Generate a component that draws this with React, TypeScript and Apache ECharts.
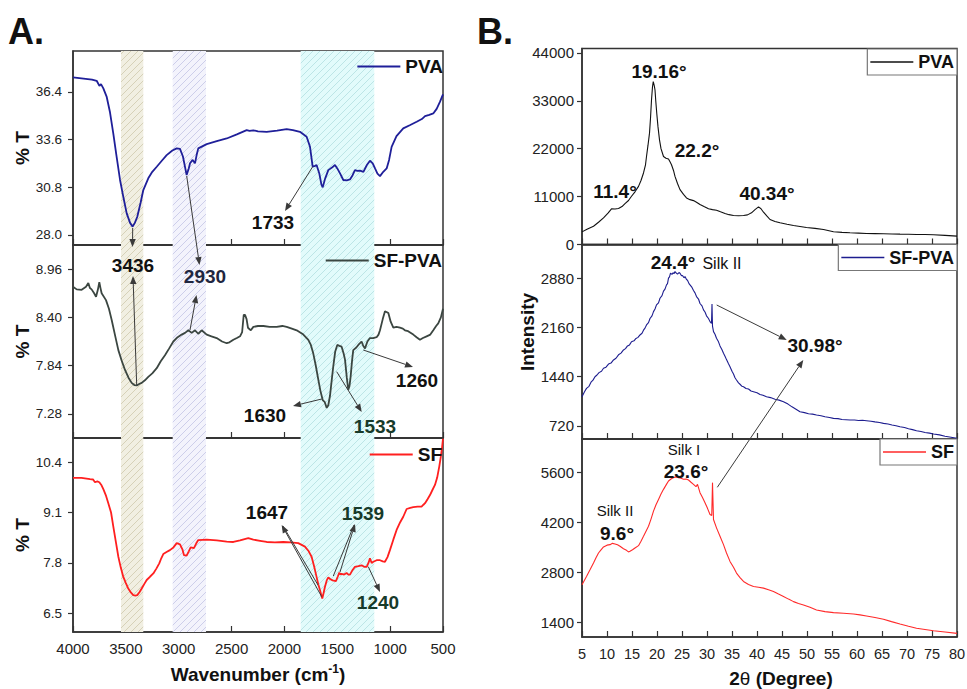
import React, { useEffect, useRef } from "react";
import * as echarts from "echarts";

const FONT = "'Liberation Sans', Arial, Helvetica, sans-serif";

// ---------- Panel A: FTIR (wavenumber cm-1, %T) ----------
const ftirPVA: [number, number][] = [
  [4000, 37.25], [3900, 37.18], [3820, 37.12], [3776, 37.05], [3750, 36.75], [3735, 36.85], [3713, 36.6],
  [3681, 36.1], [3650, 35.2], [3619, 33.96], [3590, 32.7], [3555, 31.22], [3520, 30.1], [3492, 29.26],
  [3460, 28.7], [3436, 28.48], [3415, 28.7], [3392, 29.06], [3360, 29.9], [3335, 30.63], [3288, 31.32],
  [3250, 31.7], [3208, 32.0], [3160, 32.35], [3114, 32.68], [3060, 32.95], [3019, 33.08], [2988, 33.05],
  [2960, 32.6], [2925, 31.51], [2905, 31.9], [2893, 32.2], [2868, 32.4], [2846, 32.2], [2830, 32.7],
  [2815, 33.08], [2735, 33.33], [2640, 33.5], [2546, 33.66], [2450, 33.9], [2357, 34.15], [2330, 34.1],
  [2294, 34.14], [2250, 34.08], [2168, 34.05], [2070, 34.12], [1979, 34.21], [1920, 34.15], [1853, 34.05],
  [1790, 33.76], [1758, 33.17], [1733, 32.0], [1710, 32.05], [1696, 32.1], [1670, 31.6], [1650, 30.95],
  [1638, 30.79], [1615, 31.3], [1585, 31.8], [1550, 31.95], [1522, 32.1], [1500, 31.9], [1474, 31.61],
  [1443, 31.22], [1410, 31.2], [1380, 31.25], [1355, 31.5], [1333, 31.8], [1310, 31.75], [1285, 31.77],
  [1253, 31.7], [1220, 32.1], [1191, 32.35], [1165, 32.2], [1143, 31.9], [1120, 31.6], [1096, 31.45],
  [1065, 31.7], [1033, 31.9], [1010, 32.4], [986, 33.17], [940, 33.8], [876, 34.25], [810, 34.45],
  [749, 34.64], [700, 34.8], [670, 34.97], [630, 35.05], [592, 35.13], [560, 35.4], [529, 35.81], [500, 36.25],
];

const ftirSFPVA: [number, number][] = [
  [4000, 8.755], [3965, 8.725], [3918, 8.72], [3877, 8.755], [3855, 8.8], [3840, 8.74], [3824, 8.725],
  [3800, 8.68], [3782, 8.64], [3765, 8.72], [3751, 8.81], [3740, 8.74], [3729, 8.68], [3688, 8.6],
  [3660, 8.5], [3634, 8.37], [3600, 8.18], [3571, 8.02], [3540, 7.9], [3508, 7.79], [3475, 7.7],
  [3445, 7.64], [3420, 7.615], [3397, 7.61], [3370, 7.63], [3350, 7.64], [3320, 7.67], [3288, 7.71],
  [3250, 7.75], [3208, 7.81], [3170, 7.89], [3130, 7.96], [3090, 8.04], [3051, 8.12], [3010, 8.17],
  [2972, 8.2], [2940, 8.22], [2909, 8.25], [2877, 8.22], [2846, 8.25], [2815, 8.21], [2783, 8.25],
  [2735, 8.2], [2690, 8.18], [2641, 8.16], [2590, 8.12], [2546, 8.1], [2520, 8.11], [2483, 8.14],
  [2450, 8.16], [2420, 8.18], [2400, 8.23], [2385, 8.43], [2373, 8.43], [2358, 8.38], [2345, 8.28],
  [2318, 8.25], [2294, 8.29], [2250, 8.3], [2199, 8.3], [2140, 8.29], [2073, 8.29], [2020, 8.3],
  [1979, 8.29], [1930, 8.27], [1884, 8.25], [1821, 8.2], [1774, 8.14], [1750, 8.08], [1727, 7.98],
  [1705, 7.85], [1680, 7.68], [1660, 7.55], [1638, 7.44], [1620, 7.42], [1600, 7.35], [1585, 7.38],
  [1569, 7.49], [1550, 7.7], [1538, 7.83], [1520, 8.0], [1500, 8.08], [1480, 8.07], [1459, 8.06],
  [1440, 7.98], [1427, 7.91], [1410, 7.7], [1396, 7.56], [1385, 7.6], [1374, 7.71], [1360, 7.9],
  [1349, 8.02], [1320, 8.05], [1301, 8.08], [1285, 8.1], [1270, 8.12], [1255, 8.07], [1238, 8.04],
  [1215, 8.12], [1191, 8.16], [1160, 8.16], [1128, 8.17], [1110, 8.2], [1096, 8.25], [1070, 8.38],
  [1049, 8.47], [1030, 8.46], [1017, 8.45], [995, 8.35], [970, 8.28], [940, 8.29], [907, 8.28],
  [880, 8.27], [860, 8.25], [830, 8.24], [781, 8.2], [750, 8.17], [718, 8.14], [690, 8.16], [655, 8.18],
  [620, 8.2], [592, 8.25], [565, 8.3], [545, 8.33], [520, 8.4], [500, 8.5],
];

const ftirSF: [number, number][] = [
  [4000, 9.99], [3920, 9.99], [3839, 9.96], [3810, 9.95], [3792, 9.88], [3770, 9.9], [3751, 9.88],
  [3730, 9.8], [3713, 9.7], [3690, 9.55], [3666, 9.34], [3640, 9.1], [3619, 8.74], [3595, 8.35],
  [3571, 7.96], [3548, 7.68], [3524, 7.44], [3500, 7.28], [3477, 7.14], [3453, 7.04], [3430, 6.97],
  [3410, 6.96], [3392, 6.97], [3370, 7.05], [3350, 7.14], [3325, 7.26], [3303, 7.36], [3270, 7.45],
  [3240, 7.53], [3210, 7.66], [3184, 7.79], [3165, 7.92], [3146, 8.03], [3115, 8.08], [3083, 8.13],
  [3050, 8.2], [3019, 8.31], [2988, 8.28], [2965, 8.15], [2950, 8.0], [2925, 7.99], [2905, 8.1],
  [2887, 8.2], [2856, 8.18], [2835, 8.3], [2815, 8.39], [2735, 8.4], [2640, 8.38], [2546, 8.35],
  [2483, 8.34], [2420, 8.38], [2342, 8.44], [2294, 8.4], [2230, 8.37], [2168, 8.34], [2090, 8.33],
  [2011, 8.34], [1940, 8.33], [1869, 8.31], [1806, 8.22], [1770, 8.1], [1743, 7.96], [1720, 7.72],
  [1696, 7.44], [1680, 7.25], [1664, 7.1], [1642, 6.88], [1630, 7.02], [1617, 7.18], [1600, 7.35],
  [1585, 7.43], [1565, 7.38], [1544, 7.35], [1513, 7.33], [1495, 7.45], [1481, 7.55], [1470, 7.5],
  [1459, 7.52], [1435, 7.5], [1412, 7.54], [1395, 7.5], [1380, 7.5], [1355, 7.62], [1333, 7.7],
  [1300, 7.72], [1270, 7.74], [1245, 7.7], [1222, 7.7], [1205, 7.8], [1191, 7.92], [1175, 7.8],
  [1159, 7.83], [1128, 7.87], [1096, 7.87], [1070, 7.84], [1049, 7.83], [1025, 7.95], [1002, 8.13],
  [970, 8.4], [939, 8.65], [905, 8.85], [876, 8.99], [844, 9.19], [810, 9.22], [781, 9.24], [740, 9.25],
  [703, 9.25], [685, 9.3], [670, 9.34], [645, 9.45], [623, 9.55], [600, 9.68], [576, 9.81], [555, 10.0],
  [535, 10.29], [520, 10.55], [510, 10.75], [500, 11.0],
];

// shaded wavenumber bands [from, to]
const bands: [number, number][] = [[3546, 3335], [3057, 2742], [1846, 1150]];

const ftirTicksPVA = [28.0, 30.8, 33.6, 36.4];
const ftirTicksSFPVA = [7.28, 7.84, 8.4, 8.96];
const ftirTicksSF = [6.5, 7.8, 9.1, 10.4];

// ---------- Panel B: XRD (2θ, intensity) ----------
const xrdPVA: [number, number][] = [
  [5, 2900], [6, 3500], [7.3, 4200], [8.3, 5100], [9.3, 6100], [10.2, 7200], [10.9, 8200], [11.6, 8150],
  [12.3, 8260], [13, 8700], [13.6, 9400], [14.3, 10100], [14.9, 11070], [15.6, 12100], [16.3, 13350],
  [16.8, 14700], [17.3, 16420], [17.7, 18300], [17.9, 20210], [18.2, 22800], [18.5, 25570], [18.7, 29000],
  [18.9, 33180], [19.1, 36200], [19.25, 37400], [19.45, 36500], [19.6, 35470], [19.75, 33000],
  [19.95, 30140], [20.2, 27000], [20.5, 24030], [20.8, 22000], [21.3, 20210], [21.8, 19800], [22.3, 19620],
  [22.6, 19000], [22.9, 18320], [23.3, 17000], [23.6, 15640], [24.1, 14000], [24.6, 12600], [25.3, 11500],
  [25.9, 10700], [26.6, 10300], [27.3, 10080], [27.9, 9700], [28.6, 9170], [29.4, 8700], [30.3, 8190],
  [31.1, 8000], [31.9, 7870], [32.7, 7500], [33.6, 7110], [34.4, 6850], [35.3, 6650], [36.3, 6600],
  [37.3, 6650], [38.1, 6800], [38.9, 7270], [39.6, 8000], [40.3, 8640], [40.8, 8200], [41.3, 7410],
  [42, 6500], [42.6, 5740], [43.6, 5300], [44.6, 4980], [46, 4650], [47.3, 4370], [48.6, 4150],
  [49.9, 3910], [51.6, 3700], [53.3, 3460], [55.3, 2930], [57, 2780], [58.6, 2700], [60.3, 2620],
  [61.9, 2540], [63.6, 2500], [65.3, 2470], [67, 2420], [68.6, 2380], [70.3, 2340], [71.9, 2310],
  [73.6, 2280], [75.3, 2240], [77.6, 2100], [80, 1920],
];

const xrdSFPVA: [number, number][] = [
  [5, 1148], [5.5, 1220], [5.9, 1270], [6.4, 1300], [6.8, 1360], [7.2, 1390], [7.6, 1440], [8.0, 1465],
  [8.4, 1500], [8.9, 1520], [9.3, 1563], [9.8, 1580], [10.3, 1625], [10.8, 1640], [11.3, 1685],
  [11.8, 1710], [12.3, 1760], [12.8, 1785], [13.3, 1831], [13.7, 1850], [14.1, 1890], [14.5, 1905],
  [14.9, 1952], [15.4, 1965], [15.8, 2000], [16.2, 2015], [16.6, 2050], [17.0, 2075], [17.3, 2120],
  [17.6, 2150], [17.9, 2197], [18.3, 2230], [18.6, 2290], [19.0, 2330], [19.3, 2391], [19.6, 2430],
  [19.9, 2490], [20.3, 2520], [20.6, 2587], [21.0, 2625], [21.3, 2690], [21.6, 2720], [21.9, 2782],
  [22.1, 2800], [22.3, 2880], [22.5, 2900], [22.7, 2953], [23.0, 2935], [23.2, 2960], [23.4, 2945],
  [23.6, 2977], [23.9, 2950], [24.1, 2940], [24.4, 2962], [24.6, 2953], [24.9, 2915], [25.1, 2920],
  [25.4, 2885], [25.6, 2903], [25.9, 2860], [26.1, 2850], [26.4, 2800], [26.6, 2782], [27.0, 2745],
  [27.3, 2700], [27.6, 2665], [27.9, 2611], [28.3, 2575], [28.6, 2510], [29.0, 2475], [29.3, 2416],
  [29.6, 2385], [29.9, 2330], [30.3, 2290], [30.6, 2245], [30.9, 2220], [31.0, 2504], [31.1, 2180],
  [31.3, 2099], [31.6, 2060], [31.9, 2002], [32.3, 1950], [32.6, 1890], [33.0, 1835], [33.3, 1783],
  [33.6, 1740], [33.9, 1690], [34.3, 1630], [34.6, 1587], [35.0, 1520], [35.3, 1480], [35.6, 1425],
  [35.9, 1392], [36.3, 1350], [36.6, 1330], [37.0, 1300], [37.3, 1294], [37.8, 1268], [38.3, 1260],
  [38.8, 1232], [39.3, 1221], [40.0, 1205], [40.6, 1180], [41.2, 1170], [41.9, 1148], [42.7, 1135],
  [43.6, 1110], [44.4, 1098], [45.3, 1075], [46.2, 1040], [47, 1000], [47.8, 965], [48.6, 928],
  [49.5, 915], [50.3, 900], [51.1, 893], [51.9, 880], [52.8, 870], [53.6, 855], [54.5, 845], [55.3, 831],
  [56.2, 828], [57, 815], [57.8, 812], [58.6, 807], [59.5, 808], [60.3, 800], [61.1, 803], [61.9, 797],
  [62.8, 790], [63.6, 780], [64.5, 770], [65.3, 758], [66.2, 748], [67, 735], [67.8, 724], [68.6, 709],
  [69.5, 697], [70.3, 680], [71.1, 667], [71.9, 650], [72.8, 640], [73.6, 625], [74.5, 616], [75.3, 602],
  [76.5, 590], [77.6, 570], [78.8, 556], [80, 539],
];

const xrdSF: [number, number][] = [
  [5, 2460], [5.9, 2694], [6.6, 2880], [7.3, 3070], [7.8, 3220], [8.3, 3351], [8.8, 3440], [9.3, 3520],
  [10, 3570], [10.6, 3584], [11.1, 3620], [11.6, 3604], [12.1, 3580], [12.6, 3537], [13.3, 3470],
  [13.9, 3425], [14.3, 3380], [14.6, 3397], [15.1, 3440], [15.6, 3492], [16.3, 3556], [16.8, 3680],
  [17.3, 3818], [17.8, 3960], [18.3, 4099], [18.8, 4300], [19.3, 4521], [19.8, 4700], [20.3, 4850],
  [20.8, 5000], [21.3, 5131], [21.8, 5250], [22.3, 5364], [22.8, 5420], [23.3, 5460], [23.8, 5480],
  [24.3, 5460], [24.8, 5440], [25.3, 5412], [25.8, 5420], [26.3, 5392], [26.8, 5330], [27.3, 5271],
  [27.8, 5205], [28.1, 5271], [28.6, 5038], [29.1, 4900], [29.6, 4757], [30.1, 4600], [30.6, 4428],
  [30.95, 4400], [31.1, 5319], [31.3, 4288], [31.9, 4054], [32.6, 3820], [33.3, 3584], [33.9, 3350],
  [34.6, 3115], [35.3, 2950], [35.9, 2789], [36.6, 2660], [37.3, 2553], [38.3, 2470], [39.3, 2413],
  [40.3, 2390], [41.3, 2367], [42.3, 2320], [43.3, 2272], [44.3, 2200], [45.3, 2131], [46.3, 2060],
  [47.3, 1990], [48.3, 1940], [49.3, 1898], [50.6, 1830], [51.9, 1757], [53.6, 1710], [55.3, 1682],
  [57.3, 1664], [59.3, 1645], [60.6, 1620], [61.9, 1589], [63.6, 1545], [65.3, 1496], [66.9, 1430],
  [68.6, 1364], [70.3, 1300], [71.9, 1243], [73.6, 1210], [75.3, 1176], [77.6, 1140], [80, 1101],
];

const xrdTicksPVA = [0, 11000, 22000, 33000, 44000];
const xrdTicksSFPVA = [720, 1440, 2160, 2880];
const xrdTicksSF = [1400, 2800, 4200, 5600];

// ---------- helpers ----------
function hatch(bg: string, stroke: string) {
  const svg =
    `<svg xmlns='http://www.w3.org/2000/svg' width='7' height='7'>` +
    `<rect width='7' height='7' fill='${bg}'/>` +
    `<path d='M-1,1 L1,-1 M0,7 L7,0 M6,8 L8,6' stroke='${stroke}' stroke-width='0.6'/></svg>`;
  return {
    image: "data:image/svg+xml;charset=utf-8," + encodeURIComponent(svg),
    repeat: "repeat",
    imageWidth: 7,
    imageHeight: 7,
  };
}

const bandStyles = [
  hatch("#f1efe2", "#c4bc9c"),
  hatch("#f3f3fc", "#b3b6de"),
  hatch("#e2fbfb", "#a3d6d8"),
];

function arrow(x1: number, y1: number, x2: number, y2: number, head = true, color = "#3a3a3a") {
  const ang = Math.atan2(y2 - y1, x2 - x1);
  const L = 8;
  const W = 3.2;
  const bx = head ? x2 - L * Math.cos(ang) : x2;
  const by = head ? y2 - L * Math.sin(ang) : y2;
  const px = -Math.sin(ang) * W;
  const py = Math.cos(ang) * W;
  const els: any[] = [
    { type: "line", silent: true, z: 100, shape: { x1, y1, x2: bx, y2: by }, style: { stroke: color, lineWidth: 1 } },
  ];
  if (head) {
    els.push({
      type: "polygon",
      silent: true,
      z: 100,
      shape: { points: [[x2, y2], [bx + px, by + py], [bx - px, by - py]] },
      style: { fill: color },
    });
  }
  return els;
}

function label(text: string, x: number, y: number, size = 19, weight = "bold", color = "#111") {
  return {
    type: "text",
    silent: true,
    z: 101,
    x,
    y,
    style: {
      text,
      fill: color,
      font: `${weight} ${size}px ${FONT}`,
      align: "center",
      verticalAlign: "middle",
    },
  };
}

const GREEN = "#173a2a";

export default function App() {
  const ref = useRef<HTMLDivElement>(null);

  useEffect(() => {
    document.body.style.margin = "0";
    const chart = echarts.init(ref.current!, null, { renderer: "svg", width: 967, height: 689 });

    const gridsA = [
      { left: 73, top: 51, width: 370, height: 194 },
      { left: 73, top: 245, width: 370, height: 193 },
      { left: 73, top: 438, width: 370, height: 194 },
    ];
    const gridsB = [
      { left: 582, top: 48.5, width: 375, height: 196 },
      { left: 582, top: 244.5, width: 375, height: 194.5 },
      { left: 582, top: 439, width: 375, height: 198 },
    ];
    const grid = [...gridsA, ...gridsB].map((g) => ({
      ...g,
      show: true,
      borderColor: "#333",
      borderWidth: 1.5,
      backgroundColor: "transparent",
      containLabel: false,
      outerBoundsMode: "none",
    }));

    const axisLine = { show: true, lineStyle: { color: "#333", width: 1.5 } };

    const xAxis: any[] = [];
    for (let i = 0; i < 3; i++) {
      xAxis.push({
        type: "value",
        gridIndex: i,
        min: 500,
        max: 4000,
        interval: 500,
        inverse: true,
        axisLine,
        axisTick: { show: true, inside: true, length: 6, lineStyle: { color: "#333", width: 1.2 } },
        axisLabel: {
          show: i === 2,
          fontFamily: FONT,
          fontSize: 15,
          color: "#222",
          margin: 9,
          formatter: (v: number) => String(v),
        },
        splitLine: { show: false },
        name: i === 2 ? "{a|Wavenumber (cm}{s|-1}{a|)}" : "",
        nameLocation: "middle",
        nameGap: 31,
        nameTextStyle: {
          rich: {
            a: { fontFamily: FONT, fontSize: 19, fontWeight: "bold", color: "#111", lineHeight: 22 },
            s: { fontFamily: FONT, fontSize: 12, fontWeight: "bold", color: "#111", verticalAlign: "top", lineHeight: 12 },
          },
        },
      });
    }
    for (let i = 0; i < 3; i++) {
      xAxis.push({
        type: "value",
        gridIndex: 3 + i,
        min: 5,
        max: 80,
        interval: 5,
        axisLine,
        axisTick: { show: true, inside: true, length: 6, lineStyle: { color: "#333", width: 1.2 } },
        axisLabel: {
          show: i === 2,
          fontFamily: FONT,
          fontSize: 14.5,
          color: "#222",
          margin: 9,
          formatter: (v: number) => String(v),
        },
        splitLine: { show: false },
      });
    }

    const yDefs = [
      { min: 27.4, max: 38.8, ticks: ftirTicksPVA, dec: 1, fs: 13.5 },
      { min: 7.0, max: 9.24, ticks: ftirTicksSFPVA, dec: 2, fs: 13.5 },
      { min: 6.02, max: 11.02, ticks: ftirTicksSF, dec: 1, fs: 13.5 },
      { min: 0, max: 45000, ticks: xrdTicksPVA, dec: 0, fs: 15 },
      { min: 530, max: 3372, ticks: xrdTicksSFPVA, dec: 0, fs: 15 },
      { min: 1000, max: 6540, ticks: xrdTicksSF, dec: 0, fs: 15 },
    ];
    const yAxis = yDefs.map((d, i) => ({
      type: "value",
      gridIndex: i,
      min: d.min,
      max: d.max,
      axisLine,
      axisTick: { show: true, inside: false, length: 5, customValues: d.ticks, lineStyle: { color: "#333", width: 1.2 } },
      axisLabel: {
        show: true,
        customValues: d.ticks,
        fontFamily: FONT,
        fontSize: d.fs,
        color: "#222",
        margin: i < 3 ? 11 : 8,
        formatter: (v: number) => v.toFixed(d.dec),
      },
      splitLine: { show: false },
      name: i < 3 ? "% T" : "",
      nameLocation: "middle",
      nameGap: 40,
      nameTextStyle: { fontFamily: FONT, fontSize: 19, fontWeight: "bold", color: "#111" },
    }));

    const markArea = {
      silent: true,
      label: { show: false },
      data: bands.map((b, k) => [
        { xAxis: b[0], itemStyle: { color: bandStyles[k], borderWidth: 0 } },
        { xAxis: b[1] },
      ]),
    };

    const lineSeries = (name: string, data: [number, number][], idx: number, color: string, width: number, withBands: boolean) => ({
      type: "line",
      name,
      data,
      xAxisIndex: idx,
      yAxisIndex: idx,
      symbol: "none",
      showSymbol: false,
      smooth: false,
      lineStyle: { color, width },
      itemStyle: { color },
      z: 3,
      markArea: withBands ? markArea : undefined,
    });

    const series = [
      lineSeries("PVA", ftirPVA, 0, "#1f1f99", 1.8, true),
      lineSeries("SF-PVA", ftirSFPVA, 1, "#3b4641", 1.8, true),
      lineSeries("SF", ftirSF, 2, "#ff1f1f", 1.8, true),
      lineSeries("PVA ", xrdPVA, 3, "#111111", 1.1, false),
      lineSeries("SF-PVA ", xrdSFPVA, 4, "#1d1d8f", 1.1, false),
      lineSeries("SF ", xrdSF, 5, "#ff2a2a", 1.1, false),
    ];

    const legendBase = (name: string, right: number, top: number, boxed: boolean, fs: number, lh: number) => ({
      data: [name],
      right,
      top,
      orient: "horizontal",
      selectedMode: false,
      icon: "rect",
      itemWidth: 43,
      itemHeight: lh,
      itemGap: 5,
      padding: boxed ? [4, 3, 4, 3] : 0,
      borderColor: boxed ? "#777" : "transparent",
      borderWidth: boxed ? 1.2 : 0,
      backgroundColor: boxed ? "#fff" : "transparent",
      formatter: (n: string) => n.trim(),
      textStyle: { fontFamily: FONT, fontSize: fs, fontWeight: "bold", color: "#111" },
    });

    const legend = [
      legendBase("PVA", 524, 57, false, 19, 2),
      legendBase("SF-PVA", 525, 251, false, 19, 2),
      legendBase("SF", 525, 445, false, 19, 2),
      legendBase("PVA ", 10, 49, true, 18, 1.4),
      legendBase("SF-PVA ", 10, 244.5, true, 18, 1.4),
      legendBase("SF ", 10, 439, true, 18, 1.4),
    ];

    const graphic: any[] = [
      label("A.", 26, 31, 36),
      label("B.", 495, 31, 36),
      {
        type: "text",
        silent: true,
        x: 527,
        y: 332,
        rotation: Math.PI / 2,
        style: { text: "Intensity", font: `bold 19px ${FONT}`, fill: "#111", align: "center", verticalAlign: "middle" },
      },
      {
        type: "text",
        silent: true,
        x: 781,
        y: 678,
        style: {
          text: "{b|2}{t|θ}{b| (Degree)}",
          align: "center",
          verticalAlign: "middle",
          rich: {
            b: { fontFamily: FONT, fontSize: 19, fontWeight: "bold", fill: "#111" },
            t: { fontFamily: FONT, fontSize: 19, fontWeight: "normal", fill: "#111" },
          },
        },
      },
      // Panel A annotations
      label("1733", 273, 222),
      ...arrow(312.7, 166.7, 285, 211),
      label("3436", 133, 265),
      ...arrow(132.7, 228, 132.5, 247),
      ...arrow(136.7, 385, 133, 276),
      label("2930", 205, 276, 19, "bold", "#1f2640"),
      ...arrow(186.7, 176, 199.5, 265),
      ...arrow(190, 330, 196.5, 295),
      label("1630", 265, 415),
      ...arrow(321.7, 399, 293, 406),
      label("1533", 375, 426, 19, "bold", GREEN),
      ...arrow(336.7, 371.7, 361.7, 412),
      label("1260", 417, 380),
      ...arrow(363.3, 350, 413, 367),
      label("1647", 267, 512),
      ...arrow(321.7, 596.7, 281.7, 525),
      ...arrow(318, 585, 283, 526, false),
      label("1539", 363, 513, 19, "bold", GREEN),
      ...arrow(340, 572, 355, 524),
      ...arrow(333.3, 576, 354, 525, false),
      label("1240", 378, 602, 19, "bold", GREEN),
      ...arrow(368.3, 566.7, 380, 592),
      // Panel B annotations
      label("19.16°", 659, 71),
      label("11.4°", 615, 191),
      label("22.2°", 697, 150),
      label("40.34°", 767, 193),
      label("24.4°", 673, 262),
      label("Silk II", 722, 263, 16, "normal"),
      label("30.98°", 815, 345),
      ...arrow(716.7, 305, 786.7, 340),
      ...arrow(717.3, 487.3, 803.3, 360),
      label("Silk I", 684, 449, 15, "normal"),
      label("23.6°", 686, 471),
      label("Silk II", 615, 510, 15, "normal"),
      label("9.6°", 617, 533),
    ];

    chart.setOption({
      animation: false,
      backgroundColor: "#fff",
      textStyle: { fontFamily: FONT },
      grid,
      xAxis,
      yAxis,
      legend,
      series,
      graphic,
    });

    return () => chart.dispose();
  }, []);

  return <div ref={ref} style={{ width: 967, height: 689 }} />;
}
